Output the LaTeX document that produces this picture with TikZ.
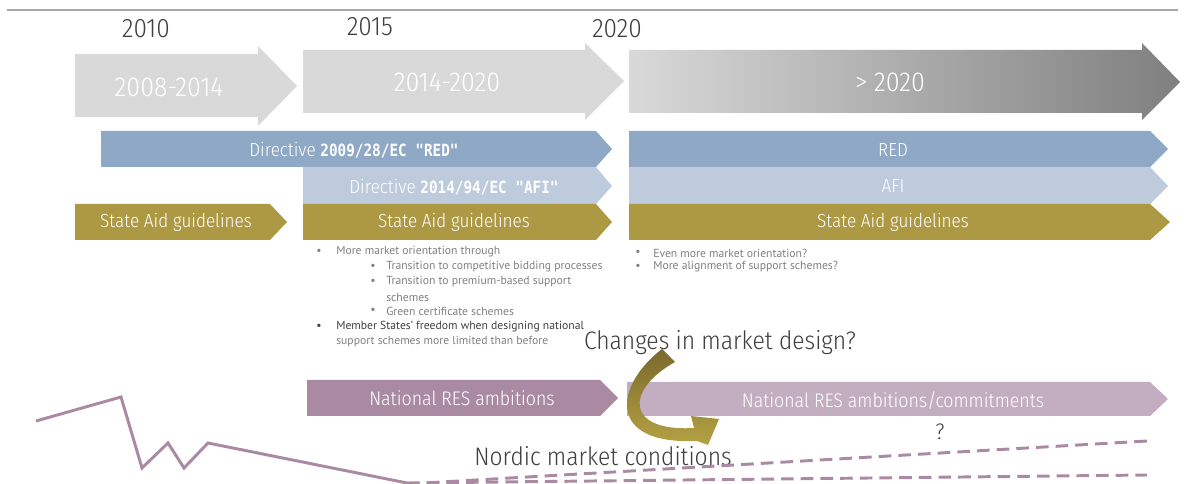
\documentclass[tikz,border=0pt]{standalone}
\usepackage{fontspec}
\setmainfont{PT Sans}
\newfontfamily\thinfont{Fira Sans Condensed Light}
\newfontfamily\codefont{DejaVu Sans Mono}
\definecolor{darktext}{HTML}{404040}
\definecolor{bulletgray}{HTML}{808080}
\definecolor{periodgray}{HTML}{D9D9D9}
\definecolor{endgray}{HTML}{7F7F7F}
\definecolor{redblue}{HTML}{8FA8C5}
\definecolor{afiblue}{HTML}{BDCBDD}
\definecolor{aidolive}{HTML}{AD9843}
\definecolor{resmauve}{HTML}{A98AA2}
\definecolor{reslight}{HTML}{C3ADC0}
\definecolor{olivedark}{HTML}{7A692D}
\definecolor{olivelight}{HTML}{B5A244}
\definecolor{trendmauve}{HTML}{A98AA2}
\newcommand{\dirno}[1]{\scalebox{0.85}[1]{\codefont\bfseries\fontsize{12}{14}\selectfont #1}}
\tikzset{
  year/.style={text=darktext, font=\thinfont\fontsize{19}{21}\selectfont},
  period/.style={text=white, font=\thinfont\fontsize{19.5}{21}\selectfont},
  barlabel/.style={text=white, font=\thinfont\fontsize{13.5}{15}\selectfont},
  reslabel/.style={text=white, font=\thinfont\fontsize{14}{16}\selectfont},
  bigtext/.style={text=darktext, font=\thinfont\fontsize{18}{20}\selectfont},
  bul/.style={anchor=west, inner sep=0pt, text=bulletgray, font=\fontsize{8.3}{9}\selectfont},
  trend/.style={trendmauve, line width=2.1pt}
}
\begin{document}
\begin{tikzpicture}[x=0.025cm, y=-0.025cm]
	\useasboundingbox (0,0) rectangle (1186,484);
	\draw[gray!70, line width=0.8pt] (7,10) -- (1178,10);
	% years
	\node[year] (y2010) at (146,29) {2010};
	\node[year] (y2015) at (370,27) {2015};
	\node[year] (y2020) at (617,29) {2020};
	% periods
	\fill[periodgray] (75,54) -- (258,54) -- (258,46) -- (297,86) -- (258,126) -- (258,117) -- (75,117) -- cycle;
	\node[period] (p1) at (169,87) {2008-2014};
	\fill[periodgray] (303,50) -- (585,50) -- (585,43) -- (624,81) -- (585,120) -- (585,113) -- (303,113) -- cycle;
	\node[period] (p2) at (447,82) {2014-2020};
	\shade[left color=periodgray, middle color=gray!42, right color=endgray] (629,50) -- (1142,50) -- (1142,43) -- (1180,82) -- (1142,120) -- (1142,113) -- (629,113) -- cycle;
	\node[period] (p3) at (890,82) {> 2020};
	% directives and guidelines
	\fill[redblue] (101,131) -- (596,131) -- (612,149) -- (596,167) -- (101,167) -- cycle;
	\node[barlabel] (red1) at (354,150) {Directive \dirno{2009/28/EC "RED"}};
	\fill[redblue] (629,131) -- (1150,131) -- (1168,149) -- (1150,167) -- (629,167) -- cycle;
	\node[barlabel] (red2) at (893,150) {RED};
	\fill[afiblue] (303,167) -- (596,167) -- (612,186) -- (596,204) -- (303,204) -- cycle;
	\node[barlabel] (afi1) at (454,187) {Directive \dirno{2014/94/EC "AFI"}};
	\fill[afiblue] (629,167) -- (1150,167) -- (1168,186) -- (1150,204) -- (629,204) -- cycle;
	\node[barlabel] (afi2) at (893,186) {AFI};
	\fill[aidolive] (75,204) -- (270,204) -- (287,222) -- (270,240) -- (75,240) -- cycle;
	\node[barlabel] (aid1) at (176,222) {State Aid guidelines};
	\fill[aidolive] (303,204) -- (596,204) -- (612,222) -- (596,240) -- (303,240) -- cycle;
	\node[barlabel] (aid2) at (454,222) {State Aid guidelines};
	\fill[aidolive] (629,204) -- (1150,204) -- (1170,222) -- (1150,240) -- (629,240) -- cycle;
	\node[barlabel] (aid3) at (893,222) {State Aid guidelines};
	% bullets 2014-2020
	\node[bul] (d1) at (316,252) {•};
	\node[bul] (t1) at (336,252) {More market orientation through};
	\node[bul] (d2) at (370,267) {•};
	\node[bul] (t2) at (386,267) {Transition to competitive bidding processes};
	\node[bul] (d3) at (370,282) {•};
	\node[bul] (t3) at (386,282) {Transition to premium-based support};
	\node[bul] (t4) at (386,297) {schemes};
	\node[bul] (d5) at (370,311) {•};
	\node[bul] (t5) at (386,311) {Green certificate schemes};
	\node[bul, text=darktext] (d6) at (316,327) {•};
	\node[bul, text=darktext] (t6) at (336,327) {Member States' freedom when designing national};
	\node[bul] (t7) at (336,342) {support schemes more limited than before};
	% bullets > 2020
	\node[bul] (e1) at (635,253) {•};
	\node[bul] (u1) at (653,253) {Even more market orientation?};
	\node[bul] (e2) at (635,267) {•};
	\node[bul] (u2) at (653,267) {More alignment of support schemes?};
	% national ambitions
	\fill[resmauve] (307,380) -- (600,380) -- (618,398) -- (600,416) -- (307,416) -- cycle;
	\node[reslabel] (res1) at (462,398) {National RES ambitions};
	\fill[reslight] (627,382) -- (1150,382) -- (1168,399) -- (1150,416) -- (627,416) -- cycle;
	\node[reslabel] (res2) at (893,401) {National RES ambitions/commitments};
	\node[bigtext] (design) at (720,343) {Changes in market design?};
	\node[bigtext] (nordic) at (603,456) {Nordic market conditions};
	\node[text=darktext, font=\thinfont\fontsize{16}{18}\selectfont] (qm) at (940,432) {?};
	% curved arrow
	\shade[top color=olivedark, bottom color=olivelight] (662,349) .. controls (615,385) and (605,445) .. (697,441) -- (708,445) -- (719,419) -- (691,416) -- (694,428) .. controls (625,432) and (625,390) .. (675,362) -- cycle;
	% trend
	\draw[trend] (36,421) -- (121,397) -- (142,468) -- (168,443) -- (184,468) -- (208,443) -- (407,483);
	\draw[trend, dash pattern=on 9pt off 5pt] (407,483) -- (1147,475);
	\draw[trend, dash pattern=on 9pt off 5pt] (407,484) -- (1147,441);
\end{tikzpicture}
\end{document}
